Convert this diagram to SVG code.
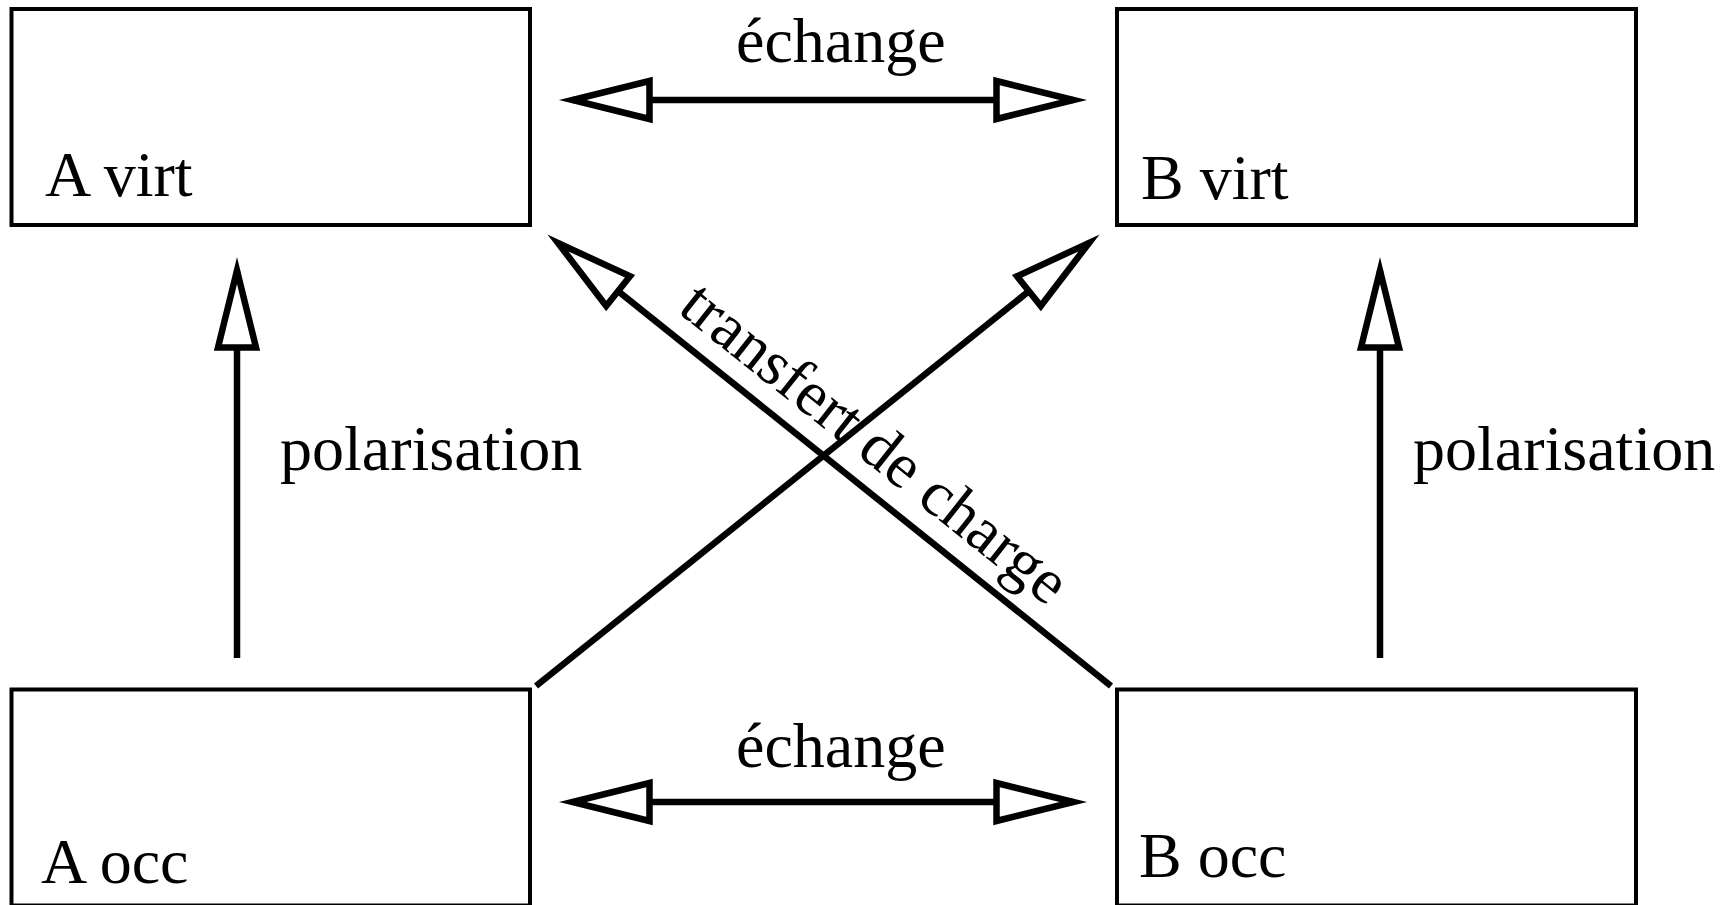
<svg xmlns="http://www.w3.org/2000/svg" width="1730" height="905" viewBox="0 0 1730 905">
  <style>
    .box { fill: #ffffff; stroke: #000000; stroke-width: 4; }
    .lbl { font-family: "Liberation Serif", "Times New Roman", serif; font-size: 64px; fill: #000000; }
    .conn { fill: none; stroke: #000000; stroke-width: 6.5; stroke-linecap: butt; }
  </style>
  <defs>
    <!-- open triangular arrowhead, white inside -->
    <marker id="open-head" markerUnits="userSpaceOnUse" viewBox="-10 -30 100 60"
            markerWidth="100" markerHeight="60" refX="77" refY="0"
            orient="auto-start-reverse" overflow="visible">
      <path d="M0,-19 L77,0 L0,19 Z" fill="#ffffff" stroke="#000000" stroke-width="6.5" stroke-miterlimit="10"/>
    </marker>
  </defs>

  <rect width="1730" height="905" fill="#ffffff"/>

  <!-- orbital boxes -->
  <g id="a-virt">
    <rect class="box" x="11.5" y="9" width="518.5" height="216"/>
    <text class="lbl" x="45" y="196">A virt</text>
  </g>
  <g id="b-virt">
    <rect class="box" x="1117" y="9" width="519" height="216"/>
    <text class="lbl" x="1141" y="199">B virt</text>
  </g>
  <g id="a-occ">
    <rect class="box" x="11.5" y="689.5" width="518.5" height="216"/>
    <text class="lbl" x="41" y="883">A occ</text>
  </g>
  <g id="b-occ">
    <rect class="box" x="1117" y="689.5" width="519" height="216"/>
    <text class="lbl" x="1139" y="877">B occ</text>
  </g>

  <!-- interactions -->
  <g id="connectors">
    <!-- exchange between virtual orbitals -->
    <line class="conn" x1="572.5" y1="100" x2="1073.5" y2="100" marker-start="url(#open-head)" marker-end="url(#open-head)"/>
    <!-- exchange between occupied orbitals -->
    <line class="conn" x1="572.5" y1="802" x2="1073.5" y2="802" marker-start="url(#open-head)" marker-end="url(#open-head)"/>
    <!-- polarisation A -->
    <line class="conn" x1="237" y1="658" x2="237" y2="270.5" marker-end="url(#open-head)"/>
    <!-- polarisation B -->
    <line class="conn" x1="1380" y1="658" x2="1380" y2="270.5" marker-end="url(#open-head)"/>
    <!-- charge transfer A occ -> B virt -->
    <line class="conn" x1="536" y1="686" x2="1089" y2="243" marker-end="url(#open-head)"/>
    <!-- charge transfer B occ -> A virt -->
    <line class="conn" x1="1111" y1="686" x2="558" y2="243" marker-end="url(#open-head)"/>

    <text class="lbl" x="736" y="62">échange</text>
    <text class="lbl" x="736" y="767">échange</text>
    <text class="lbl" x="280" y="470">polarisation</text>
    <text class="lbl" x="1413" y="470">polarisation</text>
    <text class="lbl" text-anchor="middle" transform="translate(862 459) rotate(38.5)">transfert de charge</text>
  </g>
</svg>
